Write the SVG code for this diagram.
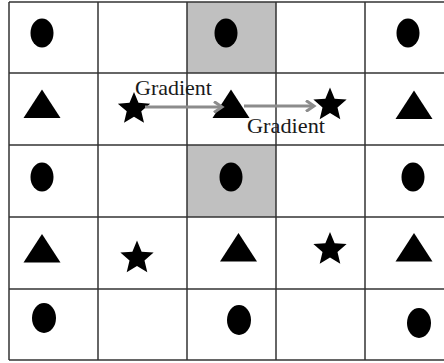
<svg xmlns="http://www.w3.org/2000/svg" xmlns:xlink="http://www.w3.org/1999/xlink" width="444" height="363" viewBox="0 0 444 363">
<style>
.grid{stroke:#333;stroke-width:1.5;fill:none}
.shade{fill:#c0c0c0}
.sym{fill:#000}
.arrow{stroke:#8c8c8c;stroke-width:3;fill:none}
.lbl{font-family:"Liberation Serif","Times New Roman",serif;font-size:21px;fill:#1a1a1a}
</style>
<defs>
<path id="star" d="M0,-1 L0.2645,-0.364 L0.951,-0.309 L0.428,0.139 L0.588,0.809 L0,0.45 L-0.588,0.809 L-0.428,0.139 L-0.951,-0.309 L-0.2645,-0.364 Z"/>
<path id="tri" d="M0,-14.5 L18.5,14 L-18.5,14 Z"/>
<marker id="head" markerWidth="12" markerHeight="12" refX="9" refY="6" orient="auto" markerUnits="userSpaceOnUse">
<polyline points="1,0.5 9,6 1,11.5" stroke="#8c8c8c" stroke-width="3" fill="none"/>
</marker>
</defs>
<rect width="444" height="363" fill="#fff"/>
<g id="shading">
<rect class="shade" x="187" y="2" width="89" height="71"/>
<rect class="shade" x="187" y="145" width="89" height="72"/>
</g>
<g id="grid" class="grid">
<line x1="9" y1="2" x2="444" y2="2"/>
<line x1="9" y1="73" x2="444" y2="73"/>
<line x1="9" y1="145" x2="444" y2="145"/>
<line x1="9" y1="217" x2="444" y2="217"/>
<line x1="9" y1="289" x2="444" y2="289"/>
<line x1="9" y1="360" x2="444" y2="360"/>
<line x1="9" y1="2" x2="9" y2="360"/>
<line x1="98" y1="2" x2="98" y2="360"/>
<line x1="187" y1="2" x2="187" y2="360"/>
<line x1="276" y1="2" x2="276" y2="360"/>
<line x1="365" y1="2" x2="365" y2="360"/>
</g>
<g id="r1c1"><ellipse class="sym" cx="42" cy="33" rx="11.5" ry="14.5"/></g>
<g id="r1c3"><ellipse class="sym" cx="226" cy="33" rx="11.5" ry="14.5"/></g>
<g id="r1c5"><ellipse class="sym" cx="408" cy="33" rx="11.5" ry="14.5"/></g>
<g id="r2c1"><use class="sym" href="#tri" transform="translate(42,104)"/></g>
<g id="r2c2"><use class="sym" href="#star" transform="translate(134,109) scale(17)"/></g>
<g id="r2c3"><use class="sym" href="#tri" transform="translate(231,104)"/></g>
<g id="r2c4"><use class="sym" href="#star" transform="translate(330,105) scale(17.5)"/></g>
<g id="r2c5"><use class="sym" href="#tri" transform="translate(414,105)"/></g>
<g id="r3c1"><ellipse class="sym" cx="42" cy="177" rx="11.5" ry="14.5"/></g>
<g id="r3c3"><ellipse class="sym" cx="231" cy="177" rx="11.5" ry="14.5"/></g>
<g id="r3c5"><ellipse class="sym" cx="413" cy="177" rx="11.5" ry="14.5"/></g>
<g id="r4c1"><use class="sym" href="#tri" transform="translate(42,248.5)"/></g>
<g id="r4c2"><use class="sym" href="#star" transform="translate(137,258) scale(17.5)"/></g>
<g id="r4c3"><use class="sym" href="#tri" transform="translate(238.5,247.5)"/></g>
<g id="r4c4"><use class="sym" href="#star" transform="translate(330,249.5) scale(17.5)"/></g>
<g id="r4c5"><use class="sym" href="#tri" transform="translate(414,247.5)"/></g>
<g id="r5c1"><ellipse class="sym" cx="44" cy="318" rx="12" ry="15"/></g>
<g id="r5c3"><ellipse class="sym" cx="239" cy="320" rx="12" ry="15"/></g>
<g id="r5c5"><ellipse class="sym" cx="419" cy="323" rx="12" ry="15"/></g>
<g id="connectors">
<line class="arrow" x1="145" y1="107" x2="222" y2="107" marker-end="url(#head)"/>
<line class="arrow" x1="244" y1="106" x2="314" y2="106" marker-end="url(#head)"/>
</g>
<g id="labels">
<text class="lbl" x="135" y="95" textLength="77" lengthAdjust="spacingAndGlyphs">Gradient</text>
<text class="lbl" x="247" y="133" textLength="78" lengthAdjust="spacingAndGlyphs">Gradient</text>
</g>
</svg>
